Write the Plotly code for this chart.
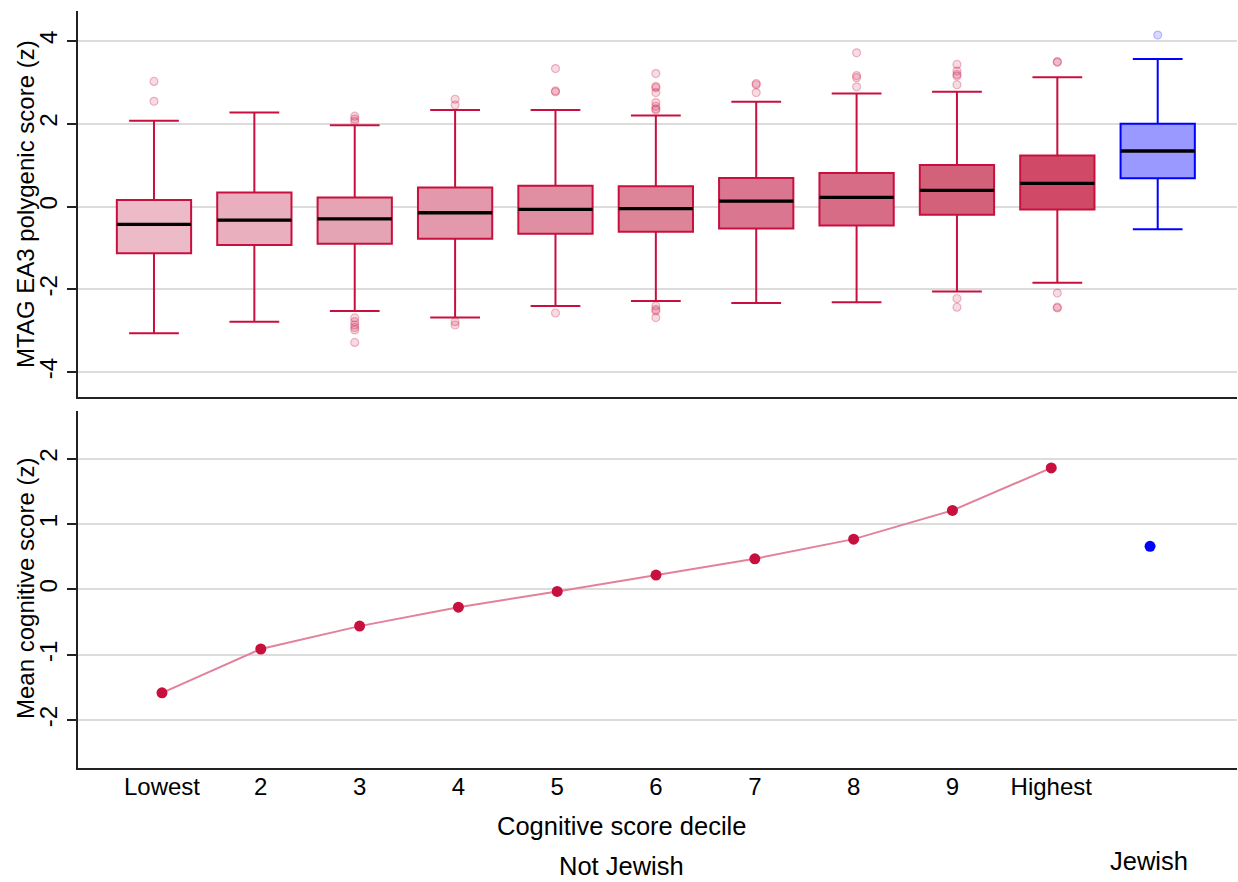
import plotly.graph_objects as go

# ---------------- data ----------------
categories = ["Lowest", "2", "3", "4", "5", "6", "7", "8", "9", "Highest", "Jewish"]
tick_labels = ["Lowest", "2", "3", "4", "5", "6", "7", "8", "9", "Highest"]

q1 = [-1.13, -0.93, -0.90, -0.78, -0.66, -0.61, -0.53, -0.46, -0.20, -0.07, 0.68]
median = [-0.43, -0.33, -0.30, -0.15, -0.07, -0.05, 0.13, 0.22, 0.39, 0.56, 1.34]
q3 = [0.16, 0.34, 0.22, 0.46, 0.50, 0.49, 0.69, 0.81, 1.00, 1.23, 2.00]
lower_whisker = [-3.06, -2.78, -2.52, -2.68, -2.40, -2.28, -2.33, -2.31, -2.05, -1.84, -0.55]
upper_whisker = [2.07, 2.27, 1.96, 2.33, 2.33, 2.20, 2.53, 2.73, 2.77, 3.12, 3.56]

outliers = [
    [3.02, 2.54],
    [],
    [2.18, 2.11, 2.05, -2.69, -2.78, -2.86, -2.92, -2.98, -3.28],
    [2.59, 2.45, -2.78, -2.86],
    [3.33, 2.79, 2.77, -2.57],
    [3.21, 2.90, 2.87, 2.75, 2.51, 2.42, 2.36, 2.33, -2.40, -2.48, -2.52, -2.68],
    [2.97, 2.94, 2.75],
    [3.71, 3.16, 3.11, 2.89],
    [3.43, 3.27, 3.19, 3.15, 2.94, -2.22, -2.43],
    [3.50, 3.48, -2.09, -2.43, -2.45],
    [4.14],
]

mean_cognitive = [-1.58, -0.91, -0.56, -0.27, -0.03, 0.22, 0.47, 0.77, 1.21, 1.86]
mean_cognitive_jewish = [0.66]

# ---------------- styles ----------------
CRIMSON = "#C8103F"
BLUE = "#0000FF"
box_fills = ["#EDBAC8", "#E9AFBF", "#E4A4B3", "#E398AB", "#E08FA3",
             "#DE8499", "#DA7690", "#D76C86", "#D4617A", "#D04A68", "#9999FF"]
box_lines = [CRIMSON] * 10 + [BLUE]
outlier_fill = ["rgba(200,16,63,0.15)"] * 10 + ["rgba(0,0,255,0.15)"]
outlier_line = ["rgba(200,16,63,0.28)"] * 10 + ["rgba(0,0,255,0.22)"]
FONT = "Liberation Sans, Arial, sans-serif"
BOX_W = 0.74

fig = go.Figure()

positions = list(range(len(categories)))

for i, cat in enumerate(categories):
    fig.add_trace(go.Box(
        x=[positions[i]], q1=[q1[i]], median=[median[i]], q3=[q3[i]],
        lowerfence=[lower_whisker[i]], upperfence=[upper_whisker[i]],
        width=BOX_W, whiskerwidth=0.67, fillcolor=box_fills[i],
        line=dict(color=box_lines[i], width=2), boxpoints=False,
        name=cat, showlegend=False, hoverinfo="skip",
        xaxis="x", yaxis="y",
    ))
    # median line (black)
    fig.add_trace(go.Scatter(
        x=[positions[i] - BOX_W / 2, positions[i] + BOX_W / 2],
        y=[median[i], median[i]], mode="lines",
        line=dict(color="black", width=3.3), showlegend=False, hoverinfo="skip",
        xaxis="x", yaxis="y",
    ))
    if outliers[i]:
        fig.add_trace(go.Scatter(
            x=[positions[i]] * len(outliers[i]), y=outliers[i], mode="markers",
            marker=dict(symbol="circle", size=8, color=outlier_fill[i],
                        line=dict(color=outlier_line[i], width=1.2)),
            showlegend=False, hoverinfo="skip", xaxis="x", yaxis="y",
        ))

# bottom panel
fig.add_trace(go.Scatter(
    x=positions[:10], y=mean_cognitive, mode="lines+markers",
    line=dict(color="#E3819B", width=2),
    marker=dict(color=CRIMSON, size=11),
    showlegend=False, xaxis="x2", yaxis="y2",
))
fig.add_trace(go.Scatter(
    x=positions[10:], y=mean_cognitive_jewish, mode="markers",
    marker=dict(color=BLUE, size=11),
    showlegend=False, xaxis="x2", yaxis="y2",
))

TICK = 24
TITLE = 24
BIG = 25.5

axis_common = dict(showline=True, linecolor="#222222", linewidth=1.5, zeroline=False,
                   tickfont=dict(family=FONT, size=TICK, color="black"))

fig.update_layout(
    width=1238, height=882,
    margin=dict(l=78, r=1, t=11, b=114),
    paper_bgcolor="white", plot_bgcolor="white",
    font=dict(family=FONT, size=TICK, color="black"),
    xaxis=dict(domain=[0, 1], anchor="y", range=[-0.757, 10.79], showticklabels=False,
               ticks="", showgrid=False, **axis_common),
    yaxis=dict(domain=[0.490, 1], anchor="x", range=[-4.6, 4.72],
               tickvals=[-4, -2, 0, 2, 4], ticktext=["-4", "-2", "0", "2", "4"],
               tickangle=-90, ticks="outside", ticklen=9, tickwidth=1.5, tickcolor="#222222",
               ticklabelstandoff=1,
               showgrid=True, gridcolor="#DCDCDC", gridwidth=1.5, **axis_common),
    xaxis2=dict(domain=[0, 1], anchor="y2", range=[-0.85, 10.88],
                tickvals=positions[:10], ticktext=tick_labels, ticks="",
                showgrid=False, ticklabelstandoff=-4, **axis_common),
    yaxis2=dict(domain=[0, 0.4716], anchor="x2", range=[-2.73, 2.73],
                tickvals=[-2, -1, 0, 1, 2], ticktext=["-2", "-1", "0", "1", "2"],
                tickangle=-90, ticks="outside", ticklen=9, tickwidth=1.5, tickcolor="#222222",
                ticklabelstandoff=1,
                showgrid=True, gridcolor="#DCDCDC", gridwidth=1.5, **axis_common),
    annotations=[
        dict(text="MTAG EA3 polygenic score (z)", textangle=-90, xref="paper", yref="paper",
             x=(25 - 78) / 1159, y=(768 - 204) / 757, xanchor="center", yanchor="middle",
             showarrow=False, font=dict(family=FONT, size=TITLE)),
        dict(text="Mean cognitive score (z)", textangle=-90, xref="paper", yref="paper",
             x=(25 - 78) / 1159, y=(768 - 589) / 757, xanchor="center", yanchor="middle",
             showarrow=False, font=dict(family=FONT, size=TITLE)),
        dict(text="Cognitive score decile", xref="paper", yref="paper",
             x=(621 - 78) / 1159, y=(768 - 826) / 757, xanchor="center", yanchor="middle",
             showarrow=False, font=dict(family=FONT, size=BIG)),
        dict(text="Not Jewish", xref="paper", yref="paper",
             x=(621 - 78) / 1159, y=(768 - 866) / 757, xanchor="center", yanchor="middle",
             showarrow=False, font=dict(family=FONT, size=BIG)),
        dict(text="Jewish", xref="paper", yref="paper",
             x=(1149 - 78) / 1159, y=(768 - 861) / 757, xanchor="center", yanchor="middle",
             showarrow=False, font=dict(family=FONT, size=BIG)),
    ],
)

fig.write_html("out.html", config={"displayModeBar": False},
               post_script="document.body.style.margin='0';document.body.style.padding='0';")
